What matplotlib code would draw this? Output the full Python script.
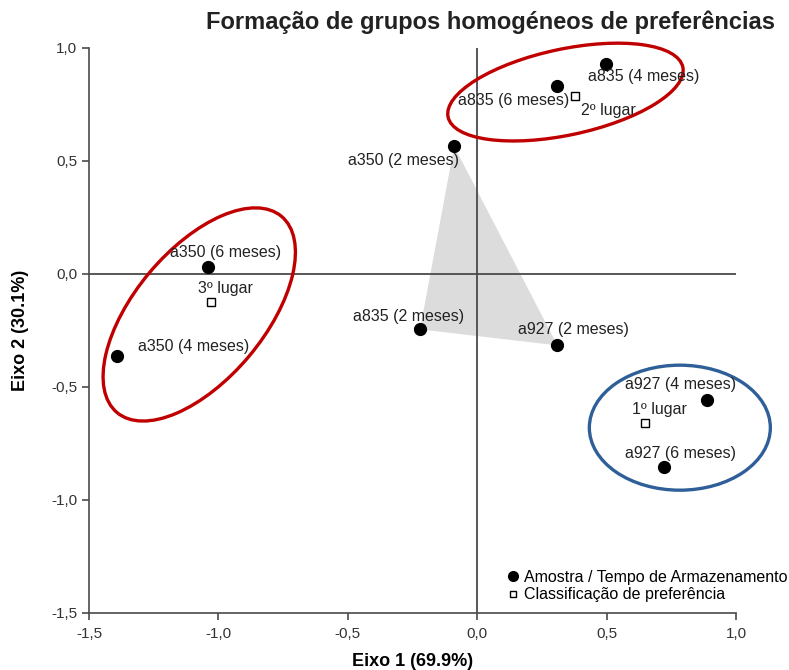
import matplotlib
matplotlib.use("Agg")
import matplotlib.pyplot as plt
from matplotlib.patches import Ellipse
from matplotlib.lines import Line2D
from matplotlib.transforms import ScaledTranslation

plt.rcParams['font.family'] = ['Liberation Sans', 'DejaVu Sans']

# amostras (pontos pretos)
sample_labels = ["a835 (4 meses)", "a835 (6 meses)", "a350 (2 meses)", "a350 (6 meses)",
                 "a350 (4 meses)", "a835 (2 meses)", "a927 (2 meses)", "a927 (4 meses)",
                 "a927 (6 meses)"]
sample_x = [0.496, 0.310, -0.089, -1.039, -1.391, -0.221, 0.310, 0.888, 0.721]
sample_y = [0.930, 0.830, 0.565, 0.030, -0.365, -0.245, -0.316, -0.556, -0.853]

# classificacao de preferencia (quadrados)
rank_labels = ["2º lugar", "3º lugar", "1º lugar"]
rank_x = [0.376, -1.027, 0.647]
rank_y = [0.787, -0.126, -0.658]

# amostras de 2 meses -> triangulo cinzento
triangle_idx = [2, 5, 6]

xticks = [-1.5, -1.0, -0.5, 0.0, 0.5, 1.0]
yticks = [-1.5, -1.0, -0.5, 0.0, 0.5, 1.0]

# label offsets in pixels (dx, dy, ha)
sample_off = [(-18, -13, 'left'), (12, -14, 'right'), (5, -14, 'right'), (-38, 15, 'left'),
              (21, 10, 'left'), (-67, 13, 'left'), (-39, 16, 'left'), (-82, 15, 'left'),
              (-39, 13, 'left')]
rank_off = [(6, -14, 'left'), (-13, 14, 'left'), (-13, 13, 'left')]

fig = plt.figure(figsize=(7.89, 6.70), dpi=100)
ax = fig.add_axes([89 / 789, 1 - 613 / 670, 647 / 789, 565 / 670])

ax.set_xlim(-1.5, 1.0)
ax.set_ylim(-1.5, 1.0)

# triangle
ax.fill([sample_x[i] for i in triangle_idx], [sample_y[i] for i in triangle_idx],
        color='#dcdcdc', lw=0, zorder=1)

ax.axhline(0, color='#4a4a4a', lw=1.3, zorder=2)
ax.axvline(0, color='#4a4a4a', lw=1.3, zorder=2)

ax.plot(sample_x, sample_y, 'o', color='black', ms=8.5, zorder=4)
ax.plot(rank_x, rank_y, 's', mfc='white', mec='black', mew=1.0, ms=5.5, zorder=4)

for lab, x, y, (dx, dy, ha) in zip(sample_labels, sample_x, sample_y, sample_off):
    ax.annotate(lab, (x, y), xytext=(dx, dy), textcoords='offset pixels',
                ha=ha, va='center', fontsize=11.5, color='#222222', zorder=5)
for lab, x, y, (dx, dy, ha) in zip(rank_labels, rank_x, rank_y, rank_off):
    ax.annotate(lab, (x, y), xytext=(dx, dy), textcoords='offset pixels',
                ha=ha, va='center', fontsize=11.5, color='#222222', zorder=5)

# ellipses, center in data coords, size in pixels
def draw_ellipse(cx, cy, w, h, ang, col):
    tr = fig.dpi_scale_trans + ScaledTranslation(cx, cy, ax.transData)
    e = Ellipse((0, 0), w / 100, h / 100, angle=ang, transform=tr,
                fill=False, edgecolor=col, lw=2.4, zorder=3, clip_on=False)
    ax.add_patch(e)

draw_ellipse(0.341, 0.805, 240, 86, 12, '#c00000')
draw_ellipse(-1.074, -0.179, 256, 130, 50, '#c00000')
draw_ellipse(0.783, -0.680, 181, 125, 0, '#2f5f98')

for s in ['top', 'right']:
    ax.spines[s].set_visible(False)
for s in ['left', 'bottom']:
    ax.spines[s].set_color('#4a4a4a')
    ax.spines[s].set_linewidth(1.2)

ax.set_xticks(xticks)
ax.set_yticks(yticks)
ax.set_xticklabels([f"{v:.1f}".replace('.', ',') for v in xticks])
ax.set_yticklabels([f"{v:.1f}".replace('.', ',') for v in yticks])
ax.tick_params(length=5, width=1.2, color='#4a4a4a', labelsize=11, labelcolor='#333333')
ax.tick_params(axis='x', pad=5)

ax.set_xlabel("Eixo 1 (69.9%)", fontsize=13, fontweight='bold', labelpad=9)
ax.set_ylabel("Eixo 2 (30.1%)", fontsize=13, fontweight='bold', labelpad=16)

fig.text(490 / 789, 1 - 22 / 670, "Formação de grupos homogéneos de preferências",
         ha='center', va='center', fontsize=17, fontweight='bold', color='#222222')

handles = [Line2D([], [], marker='o', ls='', color='black', ms=7),
           Line2D([], [], marker='s', ls='', mfc='white', mec='black', mew=1.0, ms=5)]
ax.legend(handles, ["Amostra / Tempo de Armazenamento", "Classificação de preferência"],
          loc='upper left', bbox_to_anchor=(495 / 789, 1 - 562 / 670),
          bbox_transform=fig.transFigure, frameon=False, fontsize=11.5,
          handletextpad=0.1, handlelength=1.2, borderpad=0, labelspacing=0.15)

fig.savefig("out.png", dpi=100)
